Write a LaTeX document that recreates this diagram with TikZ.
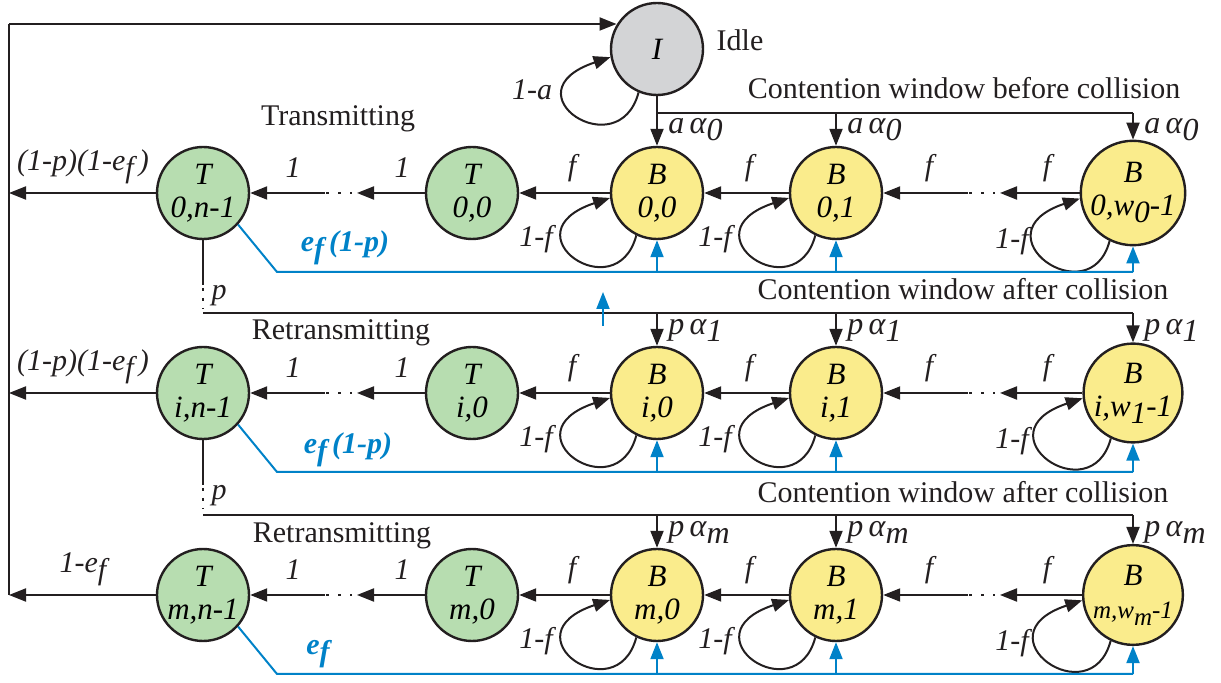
\documentclass[tikz,border=0pt]{standalone}
\usepackage{fontspec}
\setmainfont{Liberation Serif}
\usetikzlibrary{arrows.meta,calc}
\definecolor{ink}{RGB}{35,31,32}
\definecolor{ngreen}{RGB}{183,221,176}
\definecolor{nyellow}{RGB}{250,236,140}
\definecolor{ngray}{RGB}{211,212,214}
\definecolor{nblue}{RGB}{0,130,200}
\newcommand\lsub[1]{\raisebox{-3.5pt}{#1}}
\tikzset{
 stnode/.style={circle, draw=ink, line width=1.2pt, minimum size=46pt, inner sep=0pt, align=center, font=\fontsize{15.5}{16.5}\selectfont\itshape},
 tst/.style={stnode, fill=ngreen},
 bst/.style={stnode, fill=nyellow},
 ist/.style={stnode, fill=ngray},
 arr/.style={-{Triangle[length=8.5pt,width=6.5pt]}, line width=1pt, draw=ink},
 lnk/.style={line width=1pt, draw=ink},
 barr/.style={-{Triangle[length=8.5pt,width=6.5pt]}, line width=1pt, draw=nblue},
 bln/.style={line width=1pt, draw=nblue},
 dotseg/.style={line width=1.3pt, draw=ink, dash pattern=on 1.3pt off 4.7pt},
 vdotseg/.style={line width=1.3pt, draw=ink, dash pattern=on 1.3pt off 3.7pt},
 lab/.style={font=\fontsize{15}{18}\selectfont\itshape, inner sep=0pt, text=ink},
 alab/.style={font=\fontsize{16}{18}\selectfont\itshape, inner sep=0pt, text=ink},
 txt/.style={font=\fontsize{15}{18}\selectfont, inner sep=0pt, text=ink},
 blab/.style={font=\fontsize{15}{18}\selectfont\bfseries\itshape, text=nblue, inner sep=0pt},
}
% #1 row name, #2 y, #3-#7 node labels, #8 alpha label, #9 left label
\newcommand\BRow[9]{%
  \node[tst] (T#1n) at (203,#2) {T\\#3};
  \node[tst] (T#1z) at (472,#2) {T\\#4};
  \node[bst] (B#1a) at (657,#2) {B\\#5};
  \node[bst] (B#1b) at (836,#2) {B\\#6};
  \node[bst] (B#1w) at (1133,#2) {B\\#7};
  \coordinate (L#1) at (9,#2);
  \coordinate (D#1a) at (325,#2);
  \coordinate (D#1b) at (357,#2);
  \coordinate (E#1a) at (968,#2);
  \coordinate (E#1b) at (1000,#2);
  \coordinate (H#1) at (657,{#2-80});
  \coordinate (C#1) at (277,{#2+79});
  \draw[arr] (T#1n) -- (L#1);
  \draw[arr] (T#1z) -- (D#1b);
  \draw[dotseg] ($(D#1a)+(1,0)$) -- ($(D#1a)+(27,0)$);
  \draw[arr] (D#1a) -- (T#1n);
  \draw[arr] (B#1a) -- (T#1z);
  \draw[arr] (B#1b) -- (B#1a);
  \draw[dotseg] ($(E#1a)+(1,0)$) -- ($(E#1a)+(27,0)$);
  \draw[arr] (E#1a) -- (B#1b);
  \draw[arr] (B#1w) -- (E#1b);
  \foreach \n in {a,b,w} {\draw[arr] (B#1\n.244) .. controls +(-20,75) and +(-105,35) .. (B#1\n.186);}
  \draw[lnk] (H#1) -- (H#1 -| B#1w);
  \foreach \n in {a,b,w} {\draw[arr] (H#1 -| B#1\n) -- (B#1\n);}
  \draw[bln] (T#1n.-42) -- (C#1) -- (C#1 -| B#1w);
  \foreach \n in {a,b,w} {\draw[barr] (C#1 -| B#1\n) -- (B#1\n);}
  \node[lab] (f#1z) at (572,{#2-25}) {f};
  \node[lab] (f#1a) at (749,{#2-25}) {f};
  \node[lab] (f#1b) at (929,{#2-25}) {f};
  \node[lab] (f#1w) at (1047,{#2-25}) {f};
  \node[lab] (o#1a) at (293,{#2-25}) {1};
  \node[lab] (o#1b) at (402,{#2-25}) {1};
  \node[lab] (g#1a) at (536,{#2+46}) {1-f};
  \node[lab] (g#1b) at (715,{#2+46}) {1-f};
  \node[lab] (g#1w) at (1012,{#2+48}) {1-f};
  \node[alab,anchor=west] (p#1a) at (668,{#2-63}) {#8};
  \node[alab,anchor=west] (p#1b) at (847,{#2-63}) {#8};
  \node[alab,anchor=west] (p#1w) at (1144,{#2-63}) {#8};
  \node[lab] (x#1) at (83,{#2-26}) {#9};
}
\begin{document}
\begin{tikzpicture}[x=0.5pt,y=-0.5pt]
\useasboundingbox (0,0) rectangle (1221,683);
\node[ist] (I) at (657,49) {I};
\BRow{0}{193}{0,n-1}{0,0}{0,0}{0,1}{0,w\lsub{0}-1}{a\,α\lsub{0}}{(1-p)(1-e\lsub{f}\,)}
\BRow{i}{393}{i,n-1}{i,0}{i,0}{i,1}{i,w\lsub{1}-1}{p\,α\lsub{1}}{(1-p)(1-e\lsub{f}\,)}
\BRow{m}{595}{m,n-1}{m,0}{m,0}{m,1}{\fontsize{12.5}{13}\selectfont m,w\lsub{m}-1}{p\,α\lsub{m}}{1-e\lsub{f}}
% idle connections
\draw[lnk] (I) -- (H0);
\coordinate (FT) at (9,24);
\draw[lnk] (Lm) -- (FT);
\draw[arr] (FT) -- (FT -| I.149);
\draw[arr] (I.247) .. controls +(-20,75) and +(-105,35) .. (I.190);
% collision branches
\coordinate (Q0) at (203,285);
\draw[lnk] (T0n) -- (Q0);
\draw[vdotseg] ($(Q0)+(0,3)$) -- ($(Q0)+(0,24)$);
\draw[lnk] (Hi -| T0n) -- (Hi);
\coordinate (Qi) at (203,485);
\draw[lnk] (Tin) -- (Qi);
\draw[vdotseg] ($(Qi)+(0,3)$) -- ($(Qi)+(0,24)$);
\draw[lnk] (Hm -| Tin) -- (Hm);
\node[lab] (pl0) at (219,296) {p};
\node[lab] (pli) at (219,496) {p};
% stray blue arrow
\coordinate (sa) at (603,326);
\coordinate (sb) at (603,292);
\draw[barr] (sa) -- (sb);
% texts
\node[lab] (la) at (532,90) {1-a};
\node[txt] (tIdle) at (740,40) {Idle};
\node[txt] (tcw0) at (964,88) {Contention window before collision};
\node[txt] (tcwi) at (963,289) {Contention window after collision};
\node[txt] (tcwm) at (963,492) {Contention window after collision};
\node[txt] (tr0) at (338,119) {Transmitting};
\node[txt] (tri) at (341,333) {Retransmitting};
\node[txt] (trm) at (342,536) {Retransmitting};
\node[blab] (b0) at (345,248) {e\lsub{f}\,(1-p)};
\node[blab] (bi) at (348,450) {e\lsub{f}\,(1-p)};
\node[blab] (bm) at (318,654) {e\lsub{f}};
\end{tikzpicture}
\end{document}
